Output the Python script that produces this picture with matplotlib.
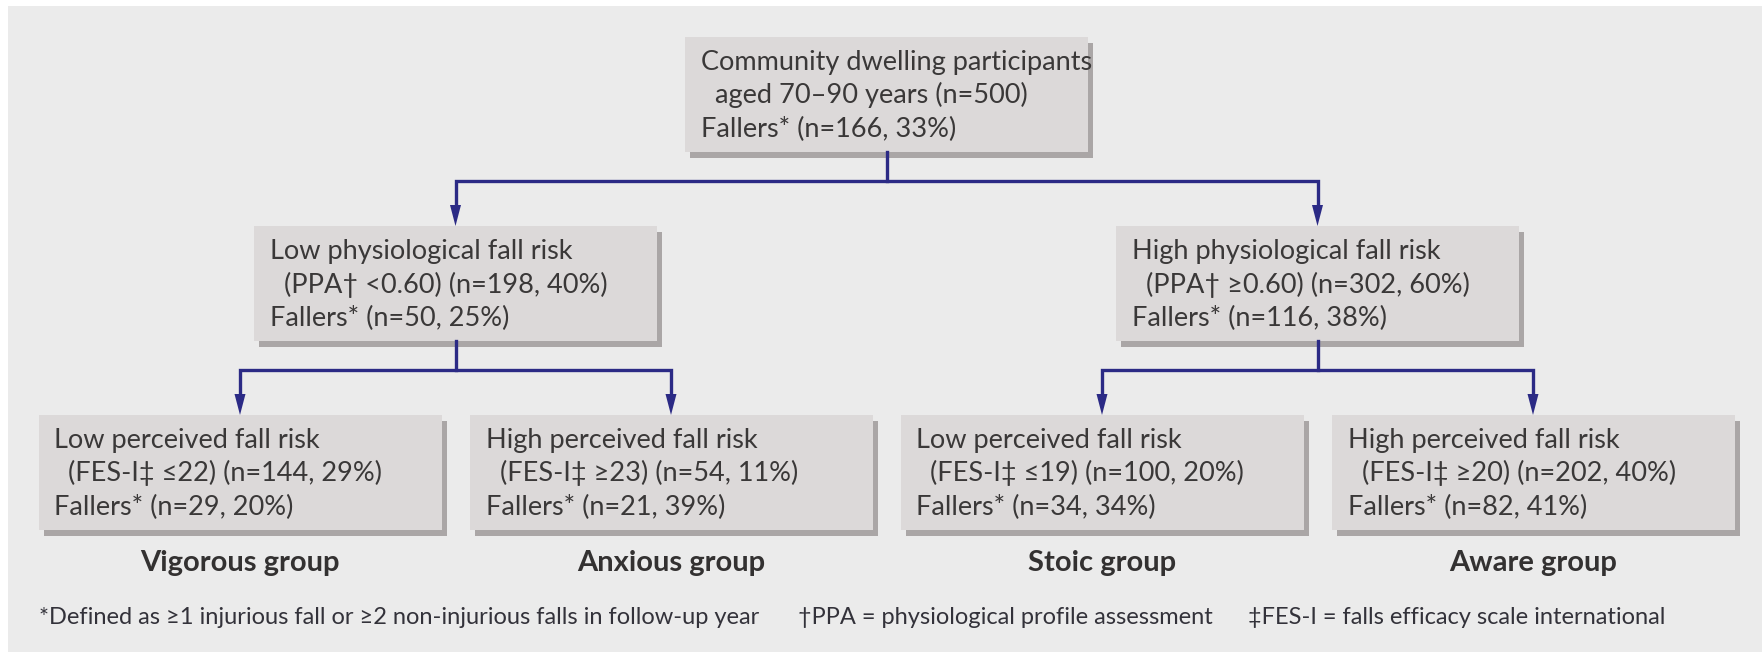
import matplotlib.pyplot as plt
from matplotlib.patches import Rectangle, Polygon

plt.rcParams['font.family'] = ['Lato', 'DejaVu Sans']

# text of the boxes, one list per level of the tree
root_lines = ["Community dwelling participants",
              "aged 70–90 years (n=500)",
              "Fallers* (n=166, 33%)"]
physio_lines = [
    ["Low physiological fall risk", "(PPA† <0.60) (n=198, 40%)", "Fallers* (n=50, 25%)"],
    ["High physiological fall risk", "(PPA† ≥0.60) (n=302, 60%)", "Fallers* (n=116, 38%)"],
]
perceived_lines = [
    ["Low perceived fall risk", "(FES-I‡ ≤22) (n=144, 29%)", "Fallers* (n=29, 20%)"],
    ["High perceived fall risk", "(FES-I‡ ≥23) (n=54, 11%)", "Fallers* (n=21, 39%)"],
    ["Low perceived fall risk", "(FES-I‡ ≤19) (n=100, 20%)", "Fallers* (n=34, 34%)"],
    ["High perceived fall risk", "(FES-I‡ ≥20) (n=202, 40%)", "Fallers* (n=82, 41%)"],
]
group_names = ["Vigorous group", "Anxious group", "Stoic group", "Aware group"]
footnotes = ["*Defined as ≥1 injurious fall or ≥2 non-injurious falls in follow-up year",
             "†PPA = physiological profile assessment",
             "‡FES-I = falls efficacy scale international"]

# layout in pixels (y grows downwards)
W, H = 1762, 652
BOX_W, BOX_H = 403, 115
LEVEL_TOP = [37, 226, 415]
LEAF_X0, LEAF_STEP = 240, 431
NAVY = '#2b2a85'
TEXT = '#3a3838'


def draw_box(ax, cx, top, lines):
    x0 = cx - BOX_W / 2
    ax.add_patch(Rectangle((x0 + 5, top + 6), BOX_W, BOX_H, color='#aaa6a6', lw=0))
    ax.add_patch(Rectangle((x0, top), BOX_W, BOX_H, color='#dcd9d9', lw=0))
    for i, line in enumerate(lines):
        indent = 14 if i == 1 else 0
        ax.text(x0 + 16 + indent, top + 33 + i * 33.5, line, va='baseline',
                ha='left', fontsize=19.5, color=TEXT)


def connect(ax, parent_cx, parent_bottom, child_cxs, child_top):
    bar_y = parent_bottom + 29
    head = 21
    ax.plot([parent_cx, parent_cx], [parent_bottom, bar_y], color=NAVY, lw=2.4)
    c0, c1 = child_cxs
    ax.plot([c0, c0, c1, c1], [child_top - head, bar_y, bar_y, child_top - head],
            color=NAVY, lw=2.4, solid_joinstyle='miter')
    for c in child_cxs:
        ax.add_patch(Polygon([(c - 5.5, child_top - head), (c + 5.5, child_top - head),
                              (c, child_top)], closed=True, color=NAVY, lw=0))


fig = plt.figure(figsize=(W / 100, H / 100), dpi=100, facecolor='white')
ax = fig.add_axes([0, 0, 1, 1])
ax.set_xlim(0, W)
ax.set_ylim(H, 0)
ax.axis('off')

ax.add_patch(Rectangle((8, 6), W - 8, H - 6, color='#ebebeb', lw=0))

leaf_cx = [LEAF_X0 + LEAF_STEP * i for i in range(len(perceived_lines))]
mid_cx = [(leaf_cx[2 * i] + leaf_cx[2 * i + 1]) / 2 for i in range(len(physio_lines))]
root_cx = (mid_cx[0] + mid_cx[1]) / 2

draw_box(ax, root_cx, LEVEL_TOP[0], root_lines)
for cx, lines in zip(mid_cx, physio_lines):
    draw_box(ax, cx, LEVEL_TOP[1], lines)
for cx, lines in zip(leaf_cx, perceived_lines):
    draw_box(ax, cx, LEVEL_TOP[2], lines)

connect(ax, root_cx, LEVEL_TOP[0] + BOX_H, mid_cx, LEVEL_TOP[1])
for i, cx in enumerate(mid_cx):
    connect(ax, cx, LEVEL_TOP[1] + BOX_H, leaf_cx[2 * i:2 * i + 2], LEVEL_TOP[2])

for cx, name in zip(leaf_cx, group_names):
    ax.text(cx, 563, name, ha='center', va='center', fontsize=21,
            fontweight='bold', color='#333131')

for x, note in zip([39, 798, 1248], footnotes):
    ax.text(x, 618, note, ha='left', va='center', fontsize=17, color='#33323a')

fig.savefig('out.png', dpi=100, facecolor='white')
